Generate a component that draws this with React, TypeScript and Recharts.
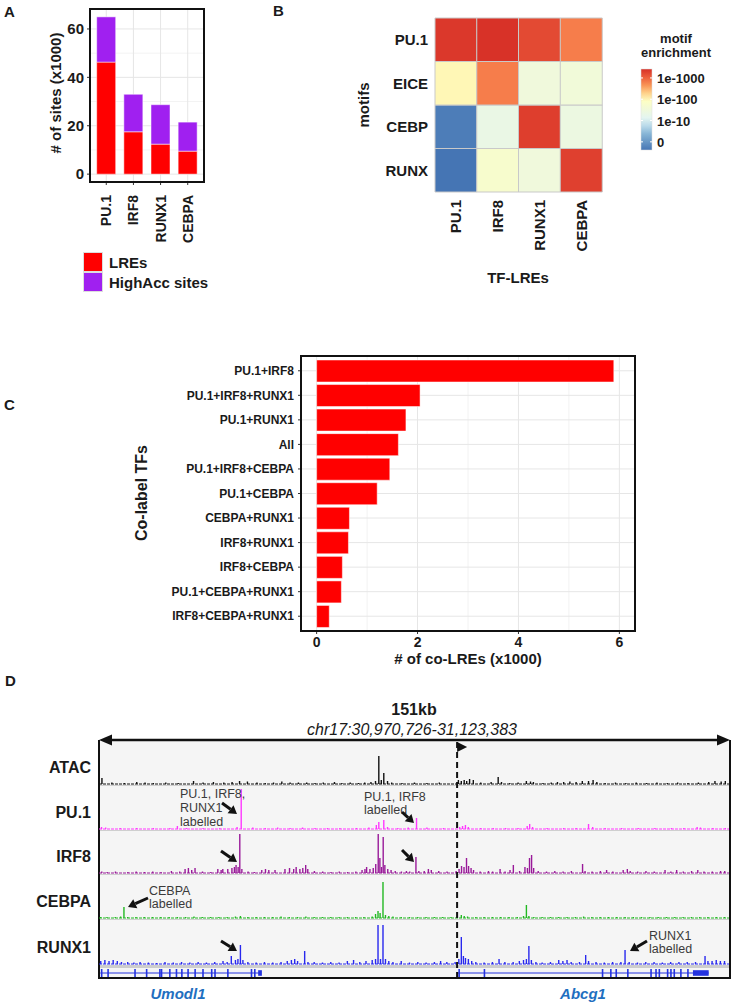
import React from "react";
import {
  Bar,
  BarChart,
  CartesianGrid,
  Cell,
  ReferenceArea,
  ReferenceLine,
  XAxis,
  YAxis,
} from "recharts";

const FONT = '"Liberation Sans", Arial, Helvetica, sans-serif';
const INK = "#1a1a1a";

// ---------- A: number of sites per TF (x1000)
const tfNames = ["PU.1", "IRF8", "RUNX1", "CEBPA"];
const lreSites = [46.3, 17.5, 12.4, 9.5];
const highAccSites = [18.7, 15.5, 16.3, 12.0];
const sitesTicks = [0, 20, 40, 60];
const sitesMinor = [10, 30, 50];
const sitesSeries = ["LREs", "HighAcc sites"];

// ---------- B: motif enrichment, log10(-log10 p), rows = motifs, cols = TF-LREs
const motifNames = ["PU.1", "EICE", "CEBP", "RUNX"];
const motifEnrichment = [
  [3.35, 3.4, 3.2, 2.8],
  [2.05, 2.8, 1.5, 1.55],
  [-0.3, 1.33, 3.3, 1.4],
  [-0.4, 1.75, 1.5, 3.28],
];
const enrichTicks = [3, 2, 1, 0];
const enrichLabels = ["1e-1000", "1e-100", "1e-10", "0"];

// ---------- C: co-labelled LREs (x1000)
const coLabelSets = [
  "PU.1+IRF8",
  "PU.1+IRF8+RUNX1",
  "PU.1+RUNX1",
  "All",
  "PU.1+IRF8+CEBPA",
  "PU.1+CEBPA",
  "CEBPA+RUNX1",
  "IRF8+RUNX1",
  "IRF8+CEBPA",
  "PU.1+CEBPA+RUNX1",
  "IRF8+CEBPA+RUNX1",
];
const coLres = [5.89, 2.05, 1.77, 1.62, 1.45, 1.2, 0.65, 0.63, 0.51, 0.49, 0.25];
const coLreTicks = [0, 2, 4, 6];
const coLreMinor = [1, 3, 5];

// ---------- D: browser tracks, [kb from locus start, signal]
const LOCUS_KB = 152;
const atacSignal = [
  [0.6, 6], [3, 1.5], [6, 1], [9, 2], [11, 1.5], [13, 1], [16, 1.5], [19, 1], [22.7, 3], [25, 1.5],
  [27.5, 2], [30, 1.5], [32, 2], [33.8, 3], [35.7, 2.5], [38, 1.5], [40, 1], [42, 1.5], [44, 2.5],
  [46, 1.5], [48, 1.5], [50, 1.5], [52, 1], [54, 1.5], [56.7, 2], [58.5, 1], [60.5, 1.5], [62.5, 1],
  [64, 1.5], [65.5, 2], [66.6, 3], [67.4, 28], [68, 4], [68.6, 11], [69.5, 3], [70.5, 1.5], [73, 1],
  [76, 1.5], [79, 1], [82, 1.5], [86.6, 4], [87.3, 3], [88, 4], [88.6, 3], [89.3, 5], [90.2, 4],
  [92, 1.5], [94.5, 2], [96.2, 7], [97, 2], [99, 1], [101, 1.5], [103, 3], [104, 2.5], [104.7, 2],
  [107, 1], [109, 1.5], [110.5, 2], [112, 2], [113.5, 2.5], [115, 2], [116.5, 3], [118, 3],
  [119.1, 4], [120, 2], [122, 1], [124.5, 1.5], [127, 1], [129.5, 1.5], [132, 1], [134.5, 1.5],
  [137, 1], [139.5, 1.5], [142, 1], [144.5, 1.5], [147, 2], [148.5, 3], [150, 2.5], [151, 3],
];
const pu1Signal = [
  [0.5, 2], [1.5, 1.5], [5, 1], [9, 1], [13, 1], [17, 1], [18.8, 3], [21, 1], [25, 1], [29, 1],
  [33.2, 2], [34.2, 40], [37, 1.5], [40, 1], [43, 1.5], [46, 1], [49, 1.5], [52, 1], [55, 1], [58, 1],
  [62, 1], [65, 1.5], [66.8, 4], [67.4, 7], [68.6, 9], [69.5, 2], [72, 1], [74.5, 1.5], [76.5, 11],
  [79, 1.5], [83, 1], [86.9, 2], [87.6, 3], [88.3, 4], [89, 2], [92, 1], [95, 1], [98, 1], [101, 1],
  [103.2, 3], [103.8, 5], [104.5, 2], [108, 1], [112, 1], [115, 1], [118, 5], [119, 2], [122, 1],
  [126, 1], [130, 1], [134, 1], [138, 1], [141, 1], [144.2, 2], [145, 1.5], [148, 1], [151, 1],
];
const irf8Signal = [
  [0.7, 1.5], [2, 1], [4, 1.5], [7, 1], [9, 1.5], [11, 1], [13, 1.5], [15, 1], [17.5, 2], [19.5, 1.5],
  [20.8, 4], [21.6, 5], [22.4, 3], [23.2, 5], [25, 1.5], [27, 1], [28.7, 4], [29.5, 3], [29.9, 4],
  [31.1, 4], [32.1, 5], [32.7, 6], [33.1, 8], [33.6, 6], [34.0, 39], [34.5, 4], [36, 1.5], [37.5, 1],
  [39.3, 3], [40.2, 4], [41, 3], [42.5, 3], [44.9, 4], [46, 5], [47, 4], [47.6, 6], [48.5, 4],
  [49.2, 5], [49.9, 8], [50.4, 4], [52, 2], [54, 1.5], [56, 1], [58, 1.5], [60, 1], [62, 1.5],
  [63.5, 3], [64.2, 4], [64.6, 6], [65.4, 4], [66.2, 5], [66.8, 9], [67.4, 39], [67.8, 15], [68.2, 6],
  [68.6, 36], [69.0, 8], [69.7, 4], [70.5, 3], [71.5, 2], [73, 1.5], [74.2, 2], [75, 1.5], [76.5, 16],
  [77.2, 2], [78.5, 2], [79.5, 4], [80.2, 3], [82, 2], [84, 1.5], [86.2, 2], [86.9, 4], [87.5, 7],
  [88.1, 6], [88.7, 15], [89.2, 7], [89.8, 5], [90.4, 3], [92, 1.5], [94, 2], [95, 1.5], [96.8, 4],
  [98, 1.5], [99.2, 3], [100, 8], [101.5, 2], [102.8, 6], [103.4, 5], [103.9, 15], [104.4, 18],
  [104.9, 5], [106, 2], [108, 1.5], [110, 2], [112, 1.5], [114, 2], [116.7, 9], [117.3, 2], [119, 1.5],
  [121, 2], [122.5, 3], [124, 1.5], [126.5, 3], [127.5, 4], [128.2, 2], [130, 1.5], [132, 2],
  [134, 1.5], [136.6, 3], [138, 1.5], [139.4, 3], [141, 1.5], [143, 2], [144.5, 3], [146, 1.5],
  [148, 1.5], [150, 2], [151, 2],
];
const cebpaSignal = [
  [0.5, 1], [2, 1], [4, 1], [5.3, 1.5], [6.1, 11], [7, 1], [9, 1], [11, 1], [13, 1], [15, 1], [17, 1],
  [19, 1], [21, 1], [23, 1.5], [25, 1], [27, 1], [29, 1], [31, 1], [33, 1.5], [34.2, 2], [36, 1],
  [38, 1], [40, 1], [42, 1], [44, 1.5], [46, 1], [48, 1], [50, 1.5], [52, 1], [54, 1], [56, 1],
  [58, 1], [60, 1], [62, 1], [64, 1], [66, 1.5], [66.8, 4], [67.4, 7], [67.9, 5], [68.6, 36],
  [69.2, 3], [70, 2], [71, 1.5], [73, 1], [75, 1], [77, 1], [79, 1], [81, 1], [83, 1], [85, 1],
  [87.5, 3], [88.2, 2], [89, 1.5], [91, 1], [93, 1], [95, 1], [97, 1], [99, 1], [101, 1], [102.5, 2],
  [103.2, 13], [103.8, 2], [105, 1], [107, 1], [109, 1], [111, 1], [113, 1], [115, 1], [117, 1.5],
  [119, 1], [121, 1], [123, 1], [125, 1], [127, 1], [129, 1], [131, 1], [133, 1], [135, 1], [137, 1],
  [139, 1], [141, 1], [143, 1], [145, 1], [147, 1], [149, 1], [151, 1],
];
const runx1Signal = [
  [0.5, 3], [1.5, 4], [2.5, 3], [3.5, 4], [4.5, 3], [5.5, 2], [7, 2], [8.5, 1.5], [10, 2], [12, 1.5],
  [14, 1], [16, 2], [18, 1.5], [20, 2], [22, 1.5], [24, 2], [26, 1.5], [28, 2], [30, 3], [31, 2],
  [32, 8], [33, 4], [33.6, 5], [34.2, 19], [34.8, 4], [36, 2], [38, 1.5], [40, 2], [42, 1.5], [44, 2],
  [45.5, 3], [46.5, 4], [47.3, 5], [48, 3], [49.7, 13], [50.5, 2], [52, 2], [54, 1.5], [56, 2],
  [58, 1.5], [60, 3], [61.5, 4], [63, 2], [64.5, 3], [66, 4], [66.8, 5], [67.4, 39], [68, 5],
  [68.6, 39], [69.2, 5], [70, 3], [71, 2], [73, 3], [75, 1.5], [77, 2], [79, 1.5], [81, 2], [82.5, 3],
  [84, 2], [86, 2], [86.9, 5], [87.5, 27], [88, 8], [88.5, 6], [89.2, 5], [90, 3], [91, 2], [93, 1.5],
  [95, 2], [96.6, 5], [98, 2], [100, 2], [101.5, 3], [102.5, 4], [103.2, 5], [103.8, 18], [104.4, 4],
  [105.5, 2], [107, 1.5], [109, 2], [111, 4], [112, 3], [113, 4], [114, 2], [116, 2], [117.5, 9],
  [118.2, 3], [120, 2], [122, 1.5], [124, 2], [126, 2], [127, 14], [128, 2], [130, 1.5], [132, 2],
  [134, 2], [136, 1.5], [138, 2], [140, 2], [142, 2], [144, 2], [146.3, 8], [147, 3], [148, 3],
  [149, 4], [150, 3], [151, 3],
];
const umodl1Span = [0.3, 38.8];
const umodl1Exons = [0.65, 2.2, 8.7, 11.5, 14.7, 15.1, 17.1, 18.7, 20.0, 21.5, 23.2, 25.1, 27.2, 28.0, 31.1, 36.8, 37.6];
const umodl1Utr = [38.4, 39.3];
const abcg1Span = [86.4, 147.1];
const abcg1Exons = [86.9, 93.0, 121.5, 123.5, 124.8, 127.6, 133.2, 134.4, 135.2, 137.2, 138.0, 138.8, 140.4, 142.1];
const abcg1Utr = [143.3, 147.1];

// layout for panel D
const TRACK_LEFT = 99;
const TRACK_W = 630;
const TRACK_H = 44;
const kbX = (kb: number) => TRACK_LEFT + (kb / LOCUS_KB) * TRACK_W;

const tracks = [
  { name: "ATAC", signal: atacSignal, color: "#111111", baseline: 784 },
  { name: "PU.1", signal: pu1Signal, color: "#ff38ff", baseline: 829 },
  { name: "IRF8", signal: irf8Signal, color: "#991a99", baseline: 873 },
  { name: "CEBPA", signal: cebpaSignal, color: "#22b822", baseline: 918 },
  { name: "RUNX1", signal: runx1Signal, color: "#2828ee", baseline: 964 },
];
const GENE_BLUE = "#2433e0";

// RdYlBu-like ramp on log10(-log10 p)
const rampStops: [number, string][] = [
  [-0.4, "#4575b4"],
  [0.5, "#91bfdb"],
  [1.0, "#e0f3f8"],
  [2.0, "#ffffbf"],
  [2.5, "#fdae61"],
  [2.9, "#f46d43"],
  [3.42, "#d73027"],
];
function hex(c: string) {
  return [1, 3, 5].map((i) => parseInt(c.slice(i, i + 2), 16));
}
function enrichColor(v: number) {
  if (v <= rampStops[0][0]) return rampStops[0][1];
  for (let i = 1; i < rampStops.length; i++) {
    const [v1, c1] = rampStops[i];
    const [v0, c0] = rampStops[i - 1];
    if (v <= v1) {
      const t = (v - v0) / (v1 - v0);
      const a = hex(c0);
      const b = hex(c1);
      return `rgb(${a.map((x, k) => Math.round(x + (b[k] - x) * t)).join(",")})`;
    }
  }
  return rampStops[rampStops.length - 1][1];
}

function Txt({ x, y, anchor = "start", rotate = false, style, children }: any) {
  const tx = anchor === "end" ? "-100%" : anchor === "middle" ? "-50%" : "0";
  return (
    <div
      style={{
        position: "absolute",
        left: x,
        top: y,
        whiteSpace: "nowrap",
        transform: rotate ? "translate(-50%,-50%) rotate(-90deg)" : `translate(${tx},-50%)`,
        color: INK,
        ...style,
      }}
    >
      {children}
    </div>
  );
}

function RotatedTick(props: any) {
  const { x, y, payload, fontSize } = props;
  return (
    <text
      x={x}
      y={y}
      transform={`rotate(-90 ${x} ${y})`}
      textAnchor="end"
      dominantBaseline="central"
      fill={INK}
      fontSize={fontSize}
      fontWeight="bold"
      fontFamily={FONT}
    >
      {payload.value}
    </text>
  );
}

function Frame({ left, top, width, height }: any) {
  return (
    <div
      style={{
        position: "absolute",
        left,
        top,
        width,
        height,
        boxSizing: "border-box",
        border: "2px solid #111",
        pointerEvents: "none",
      }}
    />
  );
}

function PanelA() {
  const data = tfNames.map((tf, i) => ({ tf, lre: lreSites[i], high: highAccSites[i] }));
  const colors = ["#ff0000", "#a020f0"];
  return (
    <>
      <div style={{ position: "absolute", left: 0, top: 0 }}>
        <BarChart width={215} height={262} data={data} margin={{ top: 9, right: 11, bottom: 0, left: 0 }} barCategoryGap={4}>
          <CartesianGrid stroke="#f3f3f3" vertical={false} horizontalValues={sitesMinor} />
          <CartesianGrid stroke="#e6e6e6" />
          <XAxis
            dataKey="tf"
            interval={0}
            height={80}
            padding={{ left: 2.7, right: 2.7 }}
            axisLine={false}
            tickSize={3}
            tickMargin={10}
            tickLine={{ stroke: "#333" }}
            tick={(p: any) => <RotatedTick {...p} fontSize={14} />}
          />
          <YAxis
            type="number"
            width={90}
            domain={[-3.25, 68.25]}
            ticks={sitesTicks}
            axisLine={false}
            tickSize={3}
            tickMargin={3}
            tickLine={{ stroke: "#333" }}
            tick={{ fill: INK, fontSize: 15, fontWeight: "bold", fontFamily: FONT }}
          />
          <Bar dataKey="lre" stackId="s" fill={colors[0]} stroke="#fff" strokeWidth={0.5} isAnimationActive={false} />
          <Bar dataKey="high" stackId="s" fill={colors[1]} stroke="#fff" strokeWidth={0.5} isAnimationActive={false} />
        </BarChart>
      </div>
      <Frame left={89} top={8} width={116} height={175} />
      <Txt x={55} y={93} rotate style={{ fontSize: 15, fontWeight: "bold" }}>
        # of sites (x1000)
      </Txt>
      {sitesSeries.map((s, i) => (
        <React.Fragment key={s}>
          <div
            style={{
              position: "absolute",
              left: 83,
              top: 252 + i * 20,
              width: 20,
              height: 20,
              boxSizing: "border-box",
              background: colors[i],
              border: "1px solid #ddd",
            }}
          />
          <Txt x={109} y={262 + i * 20} style={{ fontSize: 15, fontWeight: "bold" }}>
            {s}
          </Txt>
        </React.Fragment>
      ))}
    </>
  );
}

function PanelB() {
  const data = tfNames.map((tf) => ({ tf, m0: 1, m1: 1, m2: 1, m3: 1 }));
  const barTop = 69;
  const barBottom = 150;
  const sPerPx = 21.3;
  const sTop = 3.42;
  const sBottom = sTop - (barBottom - barTop) / sPerPx;
  const stops = Array.from({ length: 11 }, (_, k) => sTop - ((sTop - sBottom) * k) / 10);
  const yOf = (s: number) => barTop + (sTop - s) * sPerPx;
  return (
    <>
      <div style={{ position: "absolute", left: 230, top: 0 }}>
        <BarChart width={502} height={290} data={data} margin={{ top: 18, right: 130, bottom: 28, left: 145 }} barCategoryGap={0}>
          <XAxis
            dataKey="tf"
            interval={0}
            height={70}
            axisLine={false}
            tickLine={false}
            tickSize={0}
            tickMargin={8}
            tick={(p: any) => <RotatedTick {...p} fontSize={15} />}
          />
          <YAxis
            type="number"
            width={60}
            domain={[0, 4]}
            ticks={[0.5, 1.5, 2.5, 3.5]}
            tickFormatter={(v: number) => motifNames[3 - Math.floor(v)]}
            axisLine={false}
            tickLine={false}
            tickSize={0}
            tickMargin={7}
            tick={{ fill: INK, fontSize: 15, fontWeight: "bold", fontFamily: FONT }}
          />
          {[3, 2, 1, 0].map((r) => (
            <Bar key={r} dataKey={`m${r}`} stackId="h" stroke="#c9c9c9" strokeWidth={1} isAnimationActive={false}>
              {tfNames.map((tf, c) => (
                <Cell key={tf} fill={enrichColor(motifEnrichment[r][c])} />
              ))}
            </Bar>
          ))}
        </BarChart>
      </div>
      <Txt x={363} y={105} rotate style={{ fontSize: 15, fontWeight: "bold" }}>
        motifs
      </Txt>
      <Txt x={518} y={277} anchor="middle" style={{ fontSize: 15, fontWeight: "bold" }}>
        TF-LREs
      </Txt>
      <Txt x={676} y={38} anchor="middle" style={{ fontSize: 13, fontWeight: "bold" }}>
        motif
      </Txt>
      <Txt x={676} y={52} anchor="middle" style={{ fontSize: 13, fontWeight: "bold" }}>
        enrichment
      </Txt>
      <svg style={{ position: "absolute", left: 0, top: 0 }} width={732} height={300}>
        <defs>
          <linearGradient id="enrich" x1="0" y1="0" x2="0" y2="1">
            {stops.map((s, k) => (
              <stop key={k} offset={`${k * 10}%`} stopColor={enrichColor(s)} />
            ))}
          </linearGradient>
        </defs>
        <rect x={641} y={barTop} width={11} height={barBottom - barTop} fill="url(#enrich)" stroke="#ddd" strokeWidth={0.5} />
        {enrichTicks.map((s) => (
          <g key={s}>
            <line x1={641} x2={643} y1={yOf(s)} y2={yOf(s)} stroke="#fff" />
            <line x1={650} x2={652} y1={yOf(s)} y2={yOf(s)} stroke="#fff" />
          </g>
        ))}
      </svg>
      {enrichTicks.map((s, i) => (
        <Txt key={s} x={657} y={yOf(s)} style={{ fontSize: 13, fontWeight: "bold" }}>
          {enrichLabels[i]}
        </Txt>
      ))}
    </>
  );
}

function PanelC() {
  const data = coLabelSets.map((set, i) => ({ set, n: coLres[i] }));
  return (
    <>
      <div style={{ position: "absolute", left: 0, top: 340 }}>
        <BarChart
          width={732}
          height={330}
          data={data}
          layout="vertical"
          margin={{ top: 16, right: 97, bottom: 3, left: 101 }}
          barCategoryGap={1.5}
        >
          <CartesianGrid stroke="#f2f2f2" horizontal={false} verticalValues={coLreMinor} />
          <CartesianGrid stroke="#e6e6e6" />
          <XAxis
            type="number"
            domain={[-0.31, 6.31]}
            ticks={coLreTicks}
            height={36}
            axisLine={false}
            tickSize={3}
            tickMargin={3}
            tickLine={{ stroke: "#333" }}
            tick={{ fill: INK, fontSize: 14, fontWeight: "bold", fontFamily: FONT }}
          />
          <YAxis
            type="category"
            dataKey="set"
            width={200}
            interval={0}
            padding={{ top: 2.5, bottom: 2.5 }}
            axisLine={false}
            tickSize={3}
            tickMargin={4}
            tickLine={{ stroke: "#333" }}
            tick={{ fill: INK, fontSize: 12, fontWeight: "bold", fontFamily: FONT }}
          />
          <Bar dataKey="n" fill="#ff0000" stroke="#fff" strokeWidth={0.5} isAnimationActive={false} />
        </BarChart>
      </div>
      <Frame left={300} top={355} width={336} height={277} />
      <Txt x={142} y={493} rotate style={{ fontSize: 16, fontWeight: "bold" }}>
        Co-label TFs
      </Txt>
      <Txt x={468} y={658} anchor="middle" style={{ fontSize: 15, fontWeight: "bold" }}>
        # of co-LREs (x1000)
      </Txt>
    </>
  );
}

function Track({ signal, color, baseline }: any) {
  const data = signal.map(([kb, value]: number[]) => ({ kb, value }));
  return (
    <div style={{ position: "absolute", left: TRACK_LEFT, top: baseline - TRACK_H }}>
      <BarChart width={TRACK_W} height={TRACK_H + 2} data={data} margin={{ top: 0, right: 0, bottom: 2, left: 0 }}>
        <XAxis type="number" dataKey="kb" domain={[0, LOCUS_KB]} hide />
        <YAxis type="number" domain={[0, TRACK_H]} hide />
        <ReferenceLine y={0} stroke={color} strokeWidth={1} strokeDasharray="3 1" />
        <Bar dataKey="value" fill={color} barSize={1.4} isAnimationActive={false} />
      </BarChart>
    </div>
  );
}

function GeneTrack() {
  const data = [...umodl1Exons, ...abcg1Exons].map((kb) => ({ kb, span: [0.1, 0.9] }));
  return (
    <div style={{ position: "absolute", left: TRACK_LEFT, top: 968 }}>
      <BarChart width={TRACK_W} height={10} data={data} margin={{ top: 0, right: 0, bottom: 0, left: 0 }}>
        <XAxis type="number" dataKey="kb" domain={[0, LOCUS_KB]} hide />
        <YAxis type="number" domain={[0, 1]} hide />
        {[umodl1Span, abcg1Span].map((s, i) => (
          <ReferenceLine key={i} segment={[{ x: s[0], y: 0.5 }, { x: s[1], y: 0.5 }]} stroke={GENE_BLUE} strokeWidth={1} />
        ))}
        {[umodl1Utr, abcg1Utr].map((u, i) => (
          <ReferenceArea key={i} x1={u[0]} x2={u[1]} y1={0.22} y2={0.78} fill={GENE_BLUE} fillOpacity={1} stroke="none" />
        ))}
        <Bar dataKey="span" fill={GENE_BLUE} barSize={1.6} isAnimationActive={false} />
      </BarChart>
    </div>
  );
}

function Arrow({ from, to }: { from: number[]; to: number[] }) {
  const [x1, y1] = from;
  const [x2, y2] = to;
  const a = Math.atan2(y2 - y1, x2 - x1);
  const hl = 8;
  const hw = 5;
  const bx = x2 - hl * Math.cos(a);
  const by = y2 - hl * Math.sin(a);
  const px = -Math.sin(a) * hw;
  const py = Math.cos(a) * hw;
  return (
    <g>
      <line x1={x1} y1={y1} x2={bx} y2={by} stroke="#111" strokeWidth={3} />
      <polygon points={`${x2},${y2} ${bx + px},${by + py} ${bx - px},${by - py}`} fill="#111" />
    </g>
  );
}

const noteStyle = { fontSize: 12.5, color: "#3a3a3a" };

function PanelD() {
  const tssX = kbX(abcg1Span[0]);
  return (
    <>
      <Txt x={414} y={710} anchor="middle" style={{ fontSize: 16, fontWeight: "bold" }}>
        151kb
      </Txt>
      <Txt x={412} y={730} anchor="middle" style={{ fontSize: 16, fontStyle: "italic" }}>
        chr17:30,970,726-31,123,383
      </Txt>
      <div
        style={{
          position: "absolute",
          left: 98,
          top: 740,
          width: 633,
          height: 239,
          boxSizing: "border-box",
          background: "#f5f5f5",
          borderLeft: "2px solid #111",
          borderRight: "2px solid #111",
          borderBottom: "2px solid #111",
        }}
      />
      {tracks.map((t) => (
        <div key={t.name} style={{ position: "absolute", left: 100, top: t.baseline + 1, width: 629, height: 1, background: "#cfcfcf" }} />
      ))}
      <div style={{ position: "absolute", left: 100, top: 965, width: 629, height: 3, background: "#cdcdcd" }} />
      {tracks.map((t) => (
        <Track key={t.name} signal={t.signal} color={t.color} baseline={t.baseline} />
      ))}
      <GeneTrack />
      {tracks.map((t) => (
        <Txt key={t.name} x={91} y={t.baseline - 16} anchor="end" style={{ fontSize: 16, fontWeight: "bold" }}>
          {t.name}
        </Txt>
      ))}
      <Txt x={178} y={993} anchor="middle" style={{ fontSize: 15, fontWeight: "bold", fontStyle: "italic", color: "#1f6fc0" }}>
        Umodl1
      </Txt>
      <Txt x={583} y={993} anchor="middle" style={{ fontSize: 15, fontWeight: "bold", fontStyle: "italic", color: "#1f6fc0" }}>
        Abcg1
      </Txt>
      {["PU.1, IRF8,", "RUNX1", "labelled"].map((s, i) => (
        <Txt key={s} x={180} y={794 + i * 14} style={noteStyle}>
          {s}
        </Txt>
      ))}
      {["PU.1, IRF8", "labelled"].map((s, i) => (
        <Txt key={s} x={364} y={797 + i * 13} style={noteStyle}>
          {s}
        </Txt>
      ))}
      {["CEBPA", "labelled"].map((s, i) => (
        <Txt key={s} x={149} y={891 + i * 13} style={noteStyle}>
          {s}
        </Txt>
      ))}
      {["RUNX1", "labelled"].map((s, i) => (
        <Txt key={s} x={649} y={936 + i * 13} style={noteStyle}>
          {s}
        </Txt>
      ))}
      <svg style={{ position: "absolute", left: 0, top: 0, pointerEvents: "none" }} width={732} height={1003}>
        <line x1={108} x2={720} y1={740} y2={740} stroke="#111" strokeWidth={2.5} />
        <polygon points="99,740 112,734.5 112,745.5" fill="#111" />
        <polygon points="730,740 717,734.5 717,745.5" fill="#111" />
        <line x1={tssX} x2={tssX} y1={742} y2={978} stroke="#111" strokeWidth={2} strokeDasharray="6 4" />
        <polygon points={`${tssX},742 ${tssX + 10},747 ${tssX},752`} fill="#111" />
        <Arrow from={[222, 803]} to={[237, 814]} />
        <Arrow from={[221, 851]} to={[237, 862]} />
        <Arrow from={[402, 812]} to={[414, 823]} />
        <Arrow from={[402, 850]} to={[414, 862]} />
        <Arrow from={[148, 898]} to={[128, 907]} />
        <Arrow from={[221, 941]} to={[237, 951]} />
        <Arrow from={[647, 941]} to={[630, 951]} />
      </svg>
    </>
  );
}

export default function App() {
  const letter = { fontSize: 15, fontWeight: "bold" };
  return (
    <div
      style={{
        position: "absolute",
        left: 0,
        top: 0,
        width: 732,
        height: 1003,
        background: "#fff",
        fontFamily: FONT,
        overflow: "hidden",
      }}
    >
      <Txt x={4} y={11} style={letter}>A</Txt>
      <Txt x={273} y={10} style={letter}>B</Txt>
      <Txt x={4} y={404} style={letter}>C</Txt>
      <Txt x={5} y={680} style={letter}>D</Txt>
      <PanelA />
      <PanelB />
      <PanelC />
      <PanelD />
    </div>
  );
}
